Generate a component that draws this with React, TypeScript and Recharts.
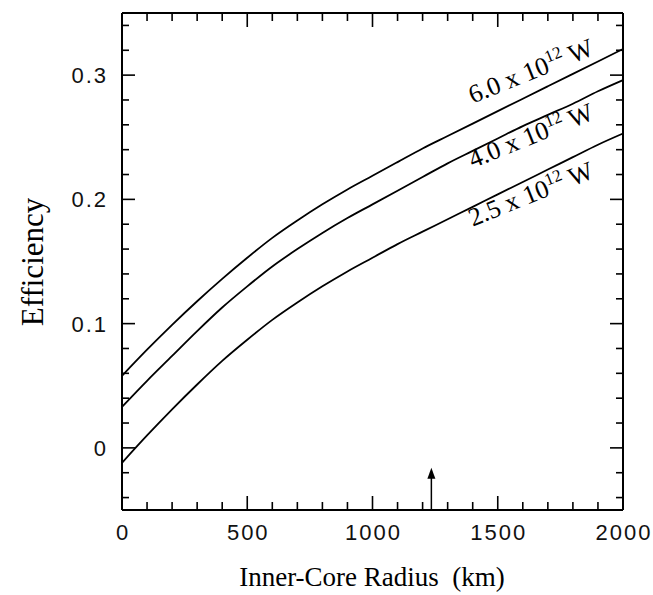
import React from "react";
import { LineChart, Line, XAxis, YAxis, ReferenceLine, ReferenceDot } from "recharts";

// inner-core radius (km)
const radiusKm = [0, 100, 200, 300, 400, 500, 600, 700, 800, 900, 1000, 1100, 1200, 1300, 1400, 1500, 1600, 1700, 1800, 1900, 2000];
// efficiency for three heat flows
const eff60 = [0.058, 0.079, 0.099, 0.118, 0.136, 0.153, 0.169, 0.183, 0.196, 0.208, 0.219, 0.23, 0.241, 0.251, 0.261, 0.271, 0.281, 0.291, 0.301, 0.311, 0.321];
const eff40 = [0.033, 0.054, 0.074, 0.094, 0.113, 0.13, 0.146, 0.16, 0.173, 0.185, 0.196, 0.207, 0.218, 0.229, 0.239, 0.249, 0.259, 0.268, 0.277, 0.287, 0.296];
const eff25 = [-0.012, 0.01, 0.031, 0.051, 0.07, 0.087, 0.103, 0.117, 0.13, 0.142, 0.153, 0.164, 0.174, 0.184, 0.194, 0.204, 0.214, 0.224, 0.234, 0.244, 0.253];

const curveLabels = [
  { mant: "6.0", x: 1400, y: 0.277 },
  { mant: "4.0", x: 1400, y: 0.225 },
  { mant: "2.5", x: 1400, y: 0.178 },
];

const xTicks = [0, 100, 200, 300, 400, 500, 600, 700, 800, 900, 1000, 1100, 1200, 1300, 1400, 1500, 1600, 1700, 1800, 1900, 2000];
const yTicks = [-0.04, -0.02, 0, 0.02, 0.04, 0.06, 0.08, 0.1, 0.12, 0.14, 0.16, 0.18, 0.2, 0.22, 0.24, 0.26, 0.28, 0.3, 0.32, 0.34];
const arrowX = 1235;

const data = radiusKm.map((r, i) => ({ r, a: eff60[i], b: eff40[i], c: eff25[i] }));

const tickFont = "'Liberation Sans', Arial, sans-serif";
const serif = "'Liberation Serif', 'Times New Roman', serif";

const isMajorX = (v: number) => v % 500 === 0;
const isMajorY = (v: number) => Math.abs(v * 10 - Math.round(v * 10)) < 1e-9;

const XTick = ({ x, y, payload, top }: any) => {
  const v = payload.value;
  const len = isMajorX(v) ? 14 : 8;
  if (top) return <line x1={x} x2={x} y1={y} y2={y + len} stroke="#000" strokeWidth={1.6} />;
  return (
    <g>
      <line x1={x} x2={x} y1={y} y2={y - len} stroke="#000" strokeWidth={1.6} />
      {isMajorX(v) && (
        <text x={x + 1} y={y + 30} textAnchor="middle" fontFamily={tickFont} fontSize={22} letterSpacing={2} fill="#111">{v}</text>
      )}
    </g>
  );
};

const YTick = ({ x, y, payload, right }: any) => {
  const v = payload.value;
  const len = isMajorY(v) ? 13 : 7;
  if (right) return <line x1={x} x2={x - len} y1={y} y2={y} stroke="#000" strokeWidth={1.6} />;
  return (
    <g>
      <line x1={x} x2={x + len} y1={y} y2={y} stroke="#000" strokeWidth={1.6} />
      {isMajorY(v) && (
        <text x={x - 14} y={y + 8} textAnchor="end" fontFamily={tickFont} fontSize={22} letterSpacing={2} fill="#111">
          {Math.abs(v) < 1e-9 ? "0" : v.toFixed(1)}
        </text>
      )}
    </g>
  );
};

const Arrow = (p: any) => {
  const { x1, y1, x2, y2 } = p;
  const top = Math.min(y1, y2);
  const bot = Math.max(y1, y2);
  return (
    <g>
      <line x1={x1} x2={x2} y1={bot} y2={top + 10} stroke="#000" strokeWidth={1.5} />
      <polygon points={`${x1},${top} ${x1 - 4},${top + 11} ${x1 + 4},${top + 11}`} fill="#000" />
    </g>
  );
};

const CurveLabel = (mant: string) => (p: any) => {
  const { cx, cy } = p;
  return (
    <text x={cx} y={cy} transform={`rotate(-22 ${cx} ${cy})`} fontFamily={serif} fontSize={26} fill="#000">
      {mant} x 10
      <tspan dy={-10} fontSize={17}>12</tspan>
      <tspan dy={10}> W</tspan>
    </text>
  );
};

const App = () => {
  return (
    <div style={{ position: "absolute", left: 0, top: 0, width: 653, height: 595, background: "#fff" }}>
      <LineChart width={653} height={595} data={data} margin={{ top: 12, right: 29, bottom: 84, left: 121 }}>
        <XAxis xAxisId="b" dataKey="r" type="number" domain={[0, 2000]} ticks={xTicks} interval={0}
          height={1} tickSize={0} tickMargin={0} tickLine={false}
          axisLine={{ stroke: "#000", strokeWidth: 2 }} tick={<XTick />} />
        <XAxis xAxisId="t" orientation="top" dataKey="r" type="number" domain={[0, 2000]} ticks={xTicks} interval={0}
          height={1} tickSize={0} tickMargin={0} tickLine={false}
          axisLine={{ stroke: "#000", strokeWidth: 2 }} tick={<XTick top />} />
        <YAxis yAxisId="l" type="number" domain={[-0.05, 0.35]} ticks={yTicks} interval={0}
          width={1} tickSize={0} tickMargin={0} tickLine={false} allowDataOverflow
          axisLine={{ stroke: "#000", strokeWidth: 2 }} tick={<YTick />} />
        <YAxis yAxisId="r" orientation="right" type="number" domain={[-0.05, 0.35]} ticks={yTicks} interval={0}
          width={1} tickSize={0} tickMargin={0} tickLine={false} allowDataOverflow
          axisLine={{ stroke: "#000", strokeWidth: 2 }} tick={<YTick right />} />
        <Line xAxisId="b" yAxisId="l" type="monotone" dataKey="a" stroke="#000" strokeWidth={1.8} dot={false} isAnimationActive={false} />
        <Line xAxisId="b" yAxisId="l" type="monotone" dataKey="b" stroke="#000" strokeWidth={1.8} dot={false} isAnimationActive={false} />
        <Line xAxisId="b" yAxisId="l" type="monotone" dataKey="c" stroke="#000" strokeWidth={1.8} dot={false} isAnimationActive={false} />
        <ReferenceLine xAxisId="b" yAxisId="l" segment={[{ x: arrowX, y: -0.05 }, { x: arrowX, y: -0.016 }]} shape={Arrow} />
        {curveLabels.map((l) => (
          <ReferenceDot key={l.mant} xAxisId="b" yAxisId="l" x={l.x} y={l.y} r={0} shape={CurveLabel(l.mant)} />
        ))}
        <text x={372} y={586} textAnchor="middle" fontFamily={serif} fontSize={27} fill="#000" style={{ whiteSpace: "pre" }}>
          Inner-Core Radius  (km)
        </text>
        <text x={43} y={262} transform="rotate(-90 43 262)" textAnchor="middle" fontFamily={serif} fontSize={31} fill="#000">
          Efficiency
        </text>
      </LineChart>
    </div>
  );
};

export default App;
